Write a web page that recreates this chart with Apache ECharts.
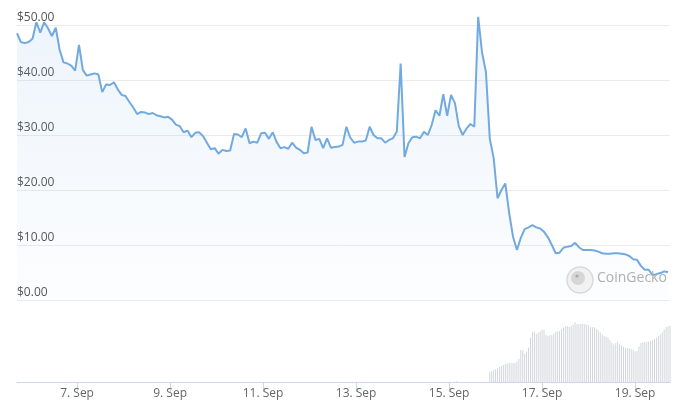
<!DOCTYPE html>
<html>
<head>
<meta charset="utf-8">
<script src="https://cdn.jsdelivr.net/npm/echarts@6/dist/echarts.min.js"></script>
<style>
html,body{margin:0;padding:0;background:#fff;}
#chart{width:682px;height:410px;}
</style>
</head>
<body>
<div id="chart"></div>
<script>
// hours since 1 Sep 00:00
const startHour = 113;        // 5 Sep 17:00
const endHour = 450;
const priceStepHours = 2;
const price = [
48.5,46.9,46.7,46.9,47.5,50.5,48.6,50.5,49.4,48.0,
49.5,45.5,43.2,43.0,42.6,41.7,46.4,41.8,40.8,41.0,
41.2,41.0,37.8,39.2,39.1,39.6,38.3,37.3,37.1,36.0,
35.0,33.8,34.2,34.1,33.8,34.0,33.6,33.4,33.2,33.3,
32.8,31.9,31.6,30.5,30.8,29.6,30.4,30.5,29.8,28.6,
27.4,27.6,26.6,27.3,27.1,27.2,30.2,30.1,29.6,31.2,
28.5,28.8,28.6,30.3,30.4,29.3,30.5,28.7,27.6,27.8,
27.5,28.6,27.7,27.3,26.7,26.8,31.5,29.1,29.3,27.6,
29.4,27.7,27.8,27.9,28.2,31.5,29.5,28.6,28.8,28.8,
29.0,31.5,30.0,29.4,29.4,28.6,29.1,29.4,30.6,43.0,
26.0,28.5,29.6,29.7,29.4,30.6,30.0,31.8,34.5,33.5,
37.4,33.5,37.3,35.8,31.6,30.0,31.2,32.0,31.5,51.5,
45.0,41.5,29.3,25.8,18.5,20.0,21.2,15.8,11.5,9.1,
11.3,12.9,13.2,13.6,13.2,13.0,12.4,11.4,10.0,8.5,
8.6,9.5,9.7,9.8,10.4,9.6,9.1,9.1,9.1,9.0,
8.8,8.5,8.4,8.4,8.5,8.5,8.4,8.3,8.0,7.4,
7.3,6.2,5.5,5.5,4.5,4.7,4.9,5.2,5.1
];
const volumeStartHour = 340;  // hourly bars
const volume = [
1,0,0,0,0,0,0,0,0,0,0,0,0,0,0,0,0,
9.0,9.7,10.5,11.5,12.4,13.5,14.4,15.3,16.1,16.7,
17.0,16.8,17.2,17.0,18.5,21.0,28.7,28.5,25.5,27.5,
31.0,40.0,45.0,45.5,43.5,44.5,45.5,47.0,47.0,42.5,
41.5,42.0,42.5,43.5,45.0,45.5,46.0,47.5,49.0,50.0,
50.3,49.5,50.5,51.5,53.7,52.2,52.0,52.2,52.5,52.0,
51.5,51.0,49.5,49.3,49.3,48.0,46.5,44.5,43.0,41.5,
41.0,40.0,37.5,35.0,33.8,34.8,36.0,34.5,33.0,31.8,
30.8,30.3,30.3,29.8,29.0,27.5,28.0,32.0,35.0,35.7,
36.0,36.0,36.2,36.8,37.8,38.7,39.6,41.0,42.8,44.8,
47.5,49.5,50.3,50.3
];
const xTickHours = [144,192,240,288,336,384,432]; // 7,9,...,19 Sep
const monthLabel = 'Sep';
const yTicks = {min:0, max:50, interval:10};

const priceData = price.map((v,i)=>[startHour + i*priceStepHours, v]);
const volData = volume.map((v,i)=>[volumeStartHour + i, v]);

const chart = echarts.init(document.getElementById('chart'), null, {renderer:'canvas'});
const font = '"Open Sans", "Noto Sans", sans-serif';
chart.setOption({
  animation:false,
  backgroundColor:'#ffffff',
  grid:[
    {left:17, right:12, top:25, bottom:110, containLabel:false},
    {left:17, right:12, top:322, bottom:28, containLabel:false}
  ],
  xAxis:[
    {type:'value', gridIndex:0, min:startHour, max:endHour, show:false},
    {type:'value', gridIndex:1, min:startHour, max:endHour,
      axisLine:{show:true, lineStyle:{color:'#ccd6eb', width:1}},
      axisTick:{show:true, length:10, lineStyle:{color:'#ccd6eb'}, customValues:xTickHours},
      splitLine:{show:false},
      axisLabel:{customValues:xTickHours, color:'#666666', fontSize:12, fontFamily:font, margin:6,
        formatter:v=> (Math.round(v/24)+1) + '. ' + monthLabel}
    }
  ],
  yAxis:[
    {type:'value', gridIndex:0, min:yTicks.min, max:yTicks.max, interval:yTicks.interval,
      axisLine:{show:false}, axisTick:{show:false},
      splitLine:{show:true, lineStyle:{color:'#ebebeb', width:1}},
      axisLabel:{inside:true, margin:0, color:'#555555', fontSize:12, fontFamily:font,
        verticalAlign:'bottom', align:'left', padding:[0,0,1,0],
        formatter:v=>'$'+v.toFixed(2)}
    },
    {type:'value', gridIndex:1, min:0, max:54, show:false, splitLine:{show:false}}
  ],
  series:[
    {type:'bar', xAxisIndex:1, yAxisIndex:1, data:volData, barWidth:1,
      itemStyle:{color:'#d3d6dc'}, silent:true},
    {type:'line', xAxisIndex:0, yAxisIndex:0, data:priceData, showSymbol:false, clip:false,
      lineStyle:{color:'#72aae0', width:2}, smooth:false,
      areaStyle:{origin:'start', color:new echarts.graphic.LinearGradient(0,0,0,1,[
        {offset:0, color:'rgba(114,170,224,0.18)'},
        {offset:1, color:'rgba(114,170,224,0.03)'}
      ])}
    }
  ],
  graphic:[
    {type:'circle', shape:{cx:580, cy:280, r:13}, style:{fill:'#f2f2f2', stroke:'#dadada', lineWidth:1.5}, z:100},
    {type:'circle', shape:{cx:578, cy:278, r:7}, style:{fill:'#d6d6d6'}, z:101},
    {type:'circle', shape:{cx:577, cy:276, r:1.6}, style:{fill:'#a8a8a8'}, z:102},
    {type:'text', left:597, top:271, style:{text:'CoinGecko', fill:'#b0b0b0', fontSize:14, fontFamily:font}, z:100}
  ]
});
</script>
</body>
</html>
